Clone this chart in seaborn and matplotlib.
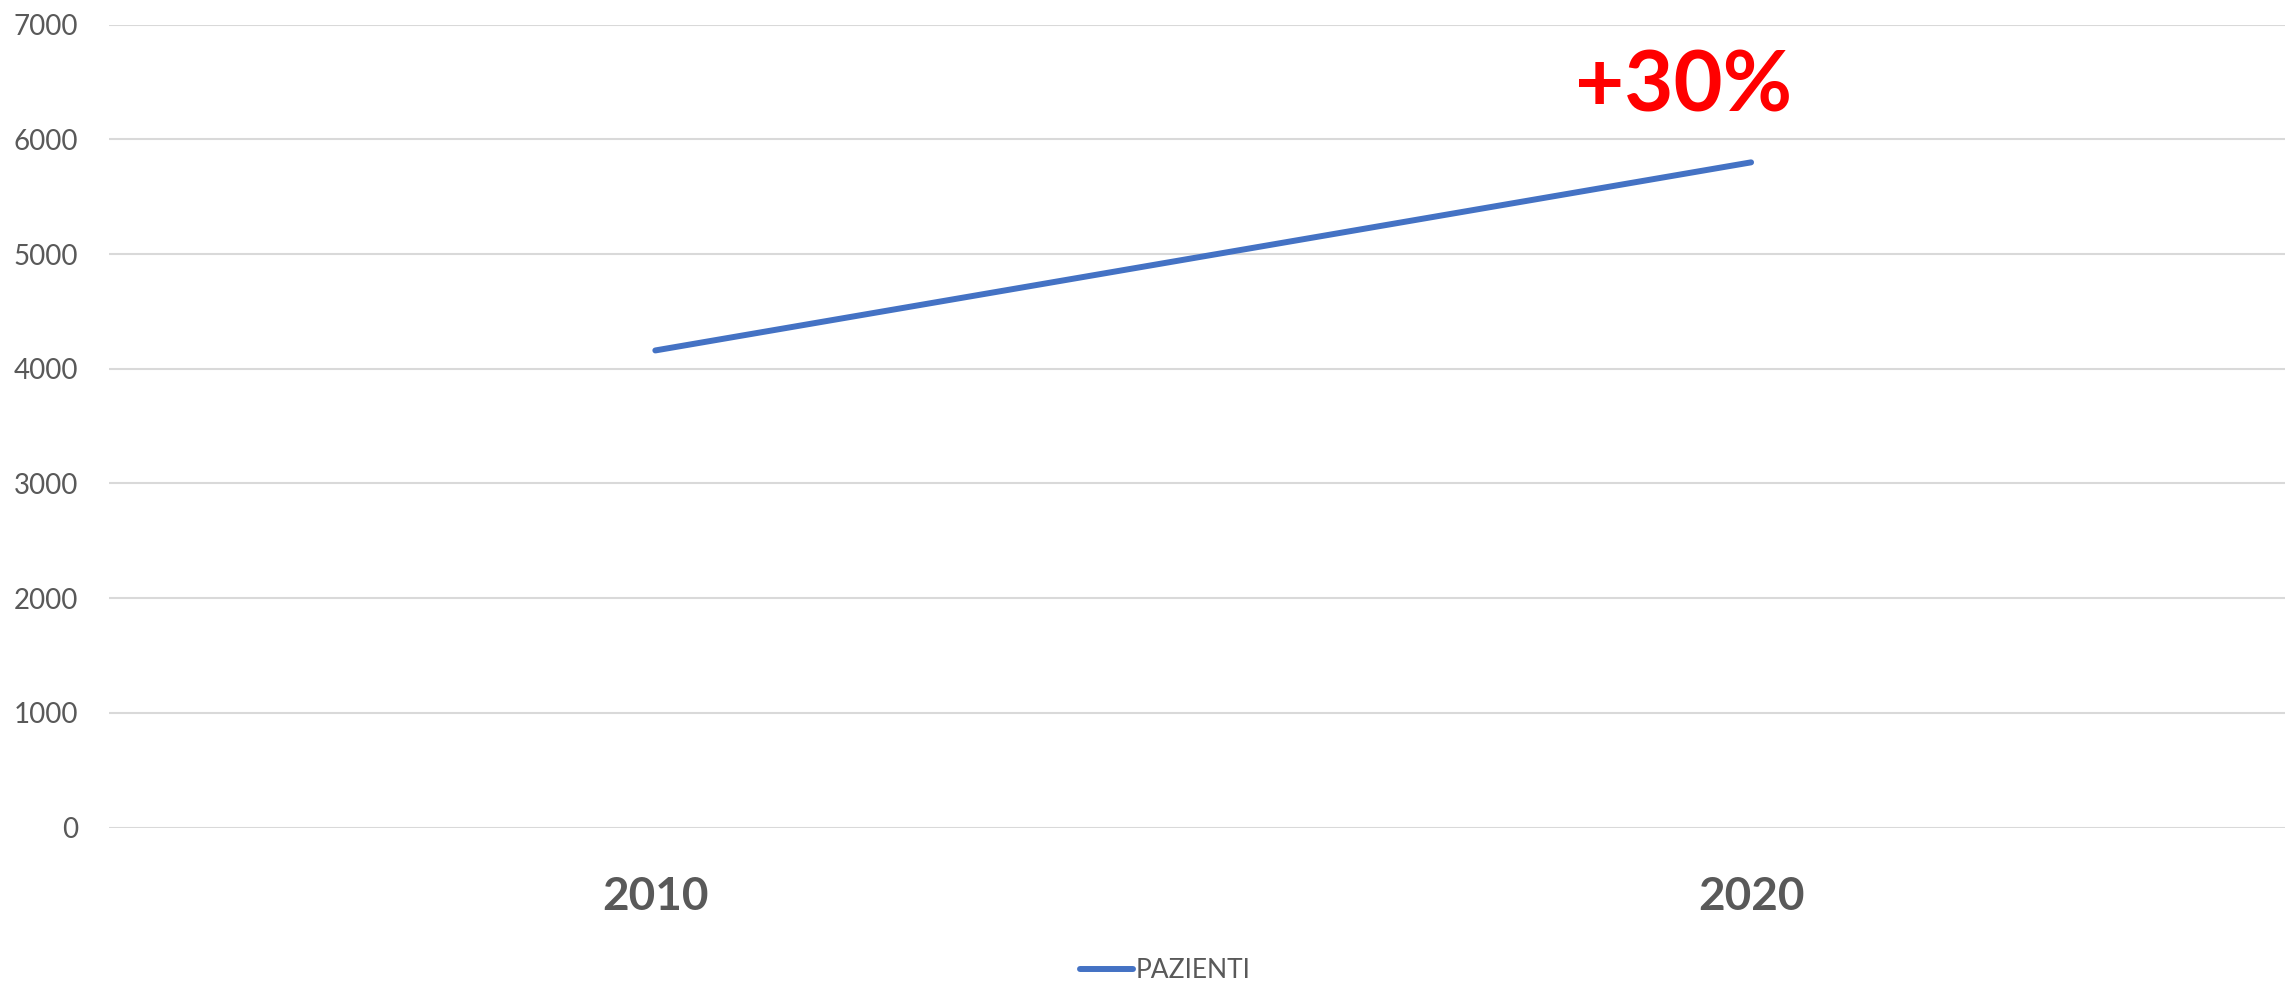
import matplotlib
matplotlib.use("Agg")
import matplotlib.pyplot as plt
import seaborn as sns
import pandas as pd

# Data
years = ["2010", "2020"]
pazienti = [4160, 5800]
series_name = "PAZIENTI"
growth_label = "+30%"
y_ticks = [0, 1000, 2000, 3000, 4000, 5000, 6000, 7000]

sns.set_theme(style="white")
plt.rcParams["font.family"] = ["Lato", "DejaVu Sans"]

df = pd.DataFrame({"anno": years, "pazienti": pazienti})

fig = plt.figure(figsize=(22.85, 9.81), dpi=100)
ax = fig.add_axes([0.0477, 0.1564, 0.9584, 0.8184])

sns.lineplot(data=df, x="anno", y="pazienti", ax=ax, color="#4472C4",
             linewidth=4.3, solid_capstyle="round", sort=False, label=series_name)

ax.set_xlim(-0.4986, 1.5)
ax.set_ylim(0, 7000)
ax.set_yticks(y_ticks)
ax.set_yticklabels([str(v) for v in y_ticks], fontsize=20, color="#595959")
ax.set_xticks(range(len(years)))
ax.set_xticklabels(years, fontsize=33, fontweight="bold", color="#595959")
ax.tick_params(axis="y", length=0, pad=22)
ax.tick_params(axis="x", length=0, pad=35)

ax.grid(axis="y", color="#D9D9D9", linewidth=1.5)
ax.set_axisbelow(True)
for s in ax.spines.values():
    s.set_visible(False)
ax.set_xlabel("")
ax.set_ylabel("")

# Growth annotation above the 2020 point
ax.text(0.938, 6460, growth_label, color="#FF0000", fontsize=61,
        fontweight="bold", ha="center", va="center")

ax.get_legend().remove()
handles, labels = ax.get_legend_handles_labels()
fig.legend(handles, labels, loc="center", bbox_to_anchor=(1165 / 2285, 1 - 971 / 981),
           frameon=False, fontsize=19, handlelength=2.0, handletextpad=0.1,
           labelcolor="#595959")

fig.savefig("out.png", dpi=100)
